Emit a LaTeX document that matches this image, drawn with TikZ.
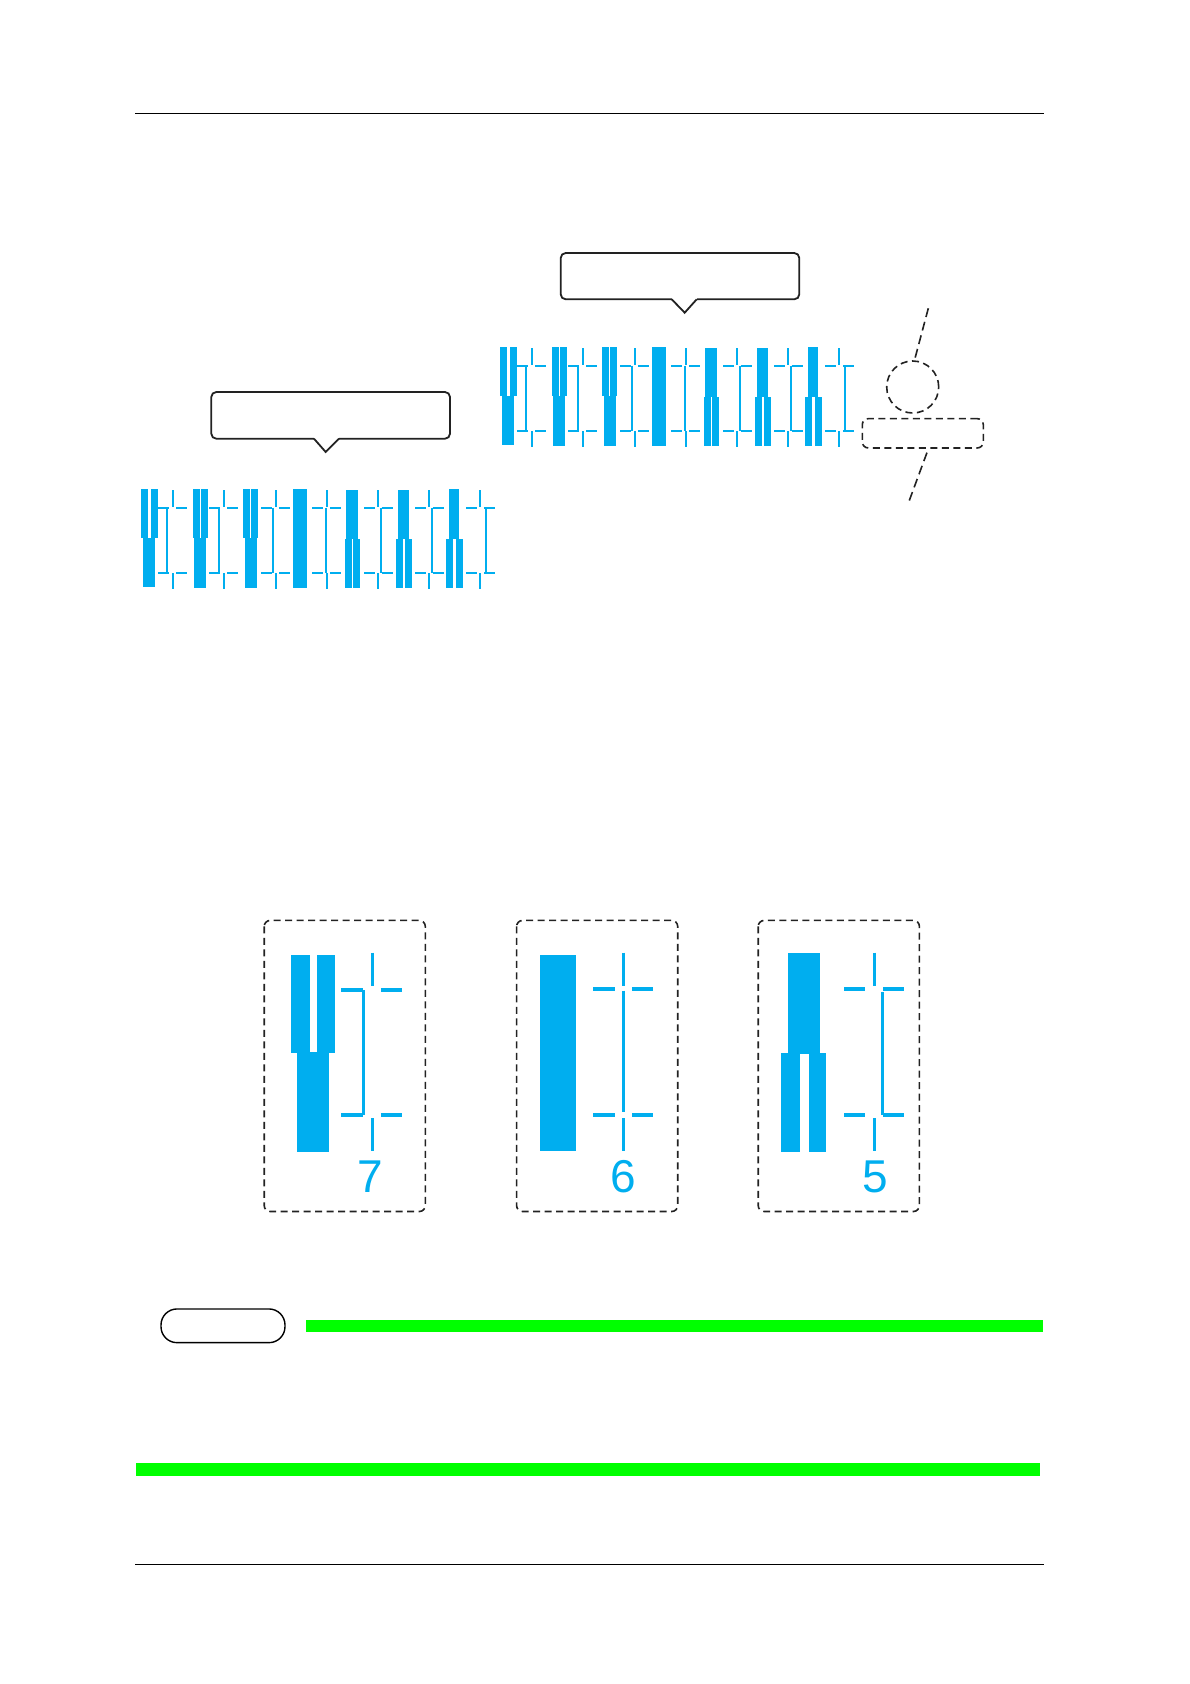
\documentclass[tikz,border=0pt]{standalone}
\usepackage{fontspec}
\setmainfont{Liberation Sans}
\definecolor{cy}{HTML}{00AEEF}
\definecolor{ink}{HTML}{222222}
\definecolor{grn}{HTML}{00FF00}
\tikzset{
  thinmark/.style={draw=cy,line width=1.8pt},
  bigmark/.style={draw=cy,line width=3.6pt},
  callout/.style={draw=ink,line width=1.8pt,rounded corners=5pt,fill=white},
  dashbox/.style={draw=ink,line width=1.6pt,dash pattern=on 7pt off 4.5pt,rounded corners=6pt},
  dashln/.style={draw=ink,line width=1.6pt,dash pattern=on 9pt off 5pt},
  rulel/.style={draw=black,line width=0.9pt},
  digit/.style={text=cy,font=\fontsize{46}{46}\selectfont,inner sep=0pt,anchor=center}
}
% cross mark in zoom units: centre x, left tick start, right tick start
\newcommand{\mk}[3]{%
  \draw[thinmark] (#1,330)--(#1,380) (#1,580)--(#1,628)
    (#2,383)--(#2+33,383) (#3,383)--(#3+33,383)
    (#2,578)--(#2+33,578) (#3,578)--(#3+33,578);}
\newcommand{\br}[1]{\draw[thinmark] (#1,383)--(#1,578);}
\newcommand{\bx}[4]{\fill[cy] (#1,#3) rectangle (#2,#4);}
\newcommand{\stripe}{%
  \bx{33}{53}{327}{473}\bx{64}{84}{327}{473}\bx{39}{75}{473}{620}
  \mk{129}{84}{138}\br{111}
  \bx{190}{211}{327}{473}\bx{214}{234}{327}{473}\bx{192}{228}{473}{623}
  \mk{282}{237}{291}\br{267}
  \bx{339}{360}{327}{473}\bx{363}{384}{327}{473}\bx{345}{381}{473}{623}
  \mk{438}{393}{447}\br{429}
  \bx{489}{531}{327}{623}
  \mk{591}{546}{600}\br{589}
  \bx{648}{684}{330}{477}\bx{645}{666}{477}{623}\bx{669}{690}{477}{623}
  \mk{744}{702}{756}\br{753}
  \bx{804}{837}{330}{477}\bx{798}{819}{477}{623}\bx{825}{846}{477}{623}
  \mk{897}{855}{909}\br{906}
  \bx{957}{987}{327}{477}\bx{948}{969}{477}{623}\bx{978}{999}{477}{623}
  \mk{1050}{1008}{1062}\br{1068}
}
% big cross: x centre, left tick start, right tick start, tick y top, tick y bottom
\newcommand{\bigcross}[5]{%
  \draw[bigmark,line width=3pt] (#1,952.7)--(#1,986) (#1,1118.3)--(#1,1151);
  \draw[bigmark] (#2,#4)--(#2+21.4,#4) (#3,#4)--(#3+21.4,#4)
     (#2,#5)--(#2+21.4,#5) (#3,#5)--(#3+21.4,#5);}
\begin{document}
\begin{tikzpicture}[x=1pt,y=-1pt]
\useasboundingbox (0,0) rectangle (1190,1684);
\fill[white] (0,0) rectangle (1190,1684);
% page rules
\coordinate (ruleTL) at (135.3,113.3); \coordinate (ruleTR) at (1044,113.3);
\coordinate (ruleBL) at (135.3,1564.3); \coordinate (ruleBR) at (1044,1564.3);
\draw[rulel] (ruleTL)--(ruleTR);
\draw[rulel] (ruleBL)--(ruleBR);
% strips
\begin{scope}[shift={(130,380)},x=0.33333pt,y=-0.33333pt]\stripe\end{scope}
\begin{scope}[shift={(489,238)},x=0.33333pt,y=-0.33333pt]\stripe\end{scope}
% callouts
\draw[callout] (211.3,392) rectangle (450,438.7);
\draw[callout] (560.7,253) rectangle (799.3,299.3);
\fill[white] (314,436) rectangle (339,441);
\draw[draw=ink,line width=1.8pt,line join=miter] (314,438.7)--(325.7,452)--(339,438.7);
\fill[white] (672,297) rectangle (697,302);
\draw[draw=ink,line width=1.8pt,line join=miter] (671.7,299.3)--(684.7,312.7)--(696.7,299.3);
% circle and dashed
\node[draw=ink,line width=1.6pt,dash pattern=on 7pt off 4.5pt,circle,minimum size=52pt,inner sep=0pt] (ring) at (912.7,387) {};
\node[dashbox,minimum width=121pt,minimum height=29.3pt,inner sep=0pt] (slot) at (922.8,433.3) {};
\coordinate (upTop) at (928.3,308.3);
\coordinate (downEnd) at (909.3,500.5);
\coordinate (upEnd) at (915,358.3);
\coordinate (downTop) at (927.3,451.7);
\draw[dashln] (upTop)--(upEnd);
\draw[dashln] (downEnd)--(downTop);
% panels
\draw[dashbox] (264.2,920.4) rectangle (425.3,1211.5);
\draw[dashbox] (516.6,920.4) rectangle (677.7,1211.5);
\draw[dashbox] (758.2,920.4) rectangle (919.4,1211.5);
% panel 7
\fill[cy] (291.1,955) rectangle (309.9,1052.7);
\fill[cy] (317,955) rectangle (334.9,1052.7);
\fill[cy] (296.9,1052) rectangle (329.1,1151.7);
\bigcross{372}{341.2}{380.9}{990}{1115}
\draw[bigmark,line width=3pt] (363,990)--(363,1115);
\node[digit] (n7) at (370.6,1176.5) {7};
% panel 6
\fill[cy] (540.4,955) rectangle (576.2,1150.7);
\bigcross{623.1}{593.2}{632}{989}{1115}
\draw[bigmark,line width=3pt] (623.1,990.7)--(623.1,1111.7);
\node[digit] (n6) at (623.1,1177) {6};
% panel 5
\fill[cy] (788.4,952.7) rectangle (819.7,1054);
\fill[cy] (781.3,1053.3) rectangle (799.6,1151.7);
\fill[cy] (808.5,1053.3) rectangle (826.4,1151.7);
\bigcross{874.2}{844}{883}{989}{1115}
\draw[bigmark,line width=3pt] (882.7,992)--(882.7,1115);
\node[digit] (n5) at (875,1177) {5};
% note pill and green bars
\node[draw=black,line width=1.4pt,rounded corners=16pt,minimum width=124pt,minimum height=33.7pt,inner sep=0pt] (pill) at (223,1325.8) {};
\fill[grn] (306,1320) rectangle (1043,1332);
\fill[grn] (136,1462.7) rectangle (1040,1476);
\end{tikzpicture}
\end{document}
